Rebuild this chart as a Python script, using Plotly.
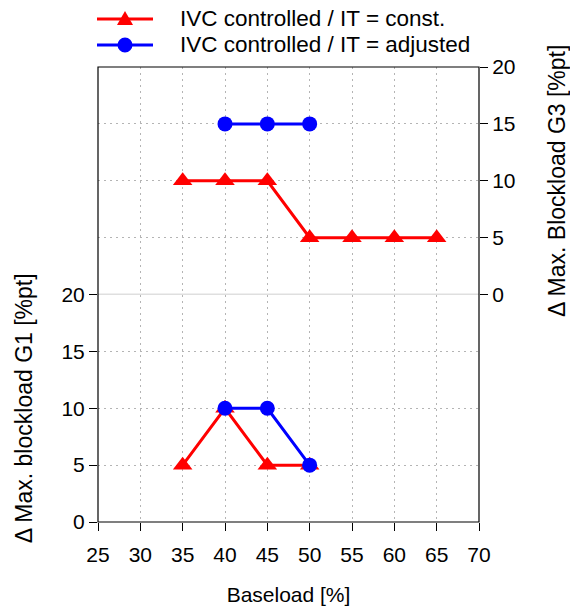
import plotly.graph_objects as go

# Baseload levels [%]
baseload_const_g3 = [35, 40, 45, 50, 55, 60, 65]
baseload_adj_g3 = [40, 45, 50]
baseload_const_g1 = [35, 40, 45, 50]
baseload_adj_g1 = [40, 45, 50]

# Δ max. blockload G3 [%pt] (upper panel, right axis)
g3_const = [10, 10, 10, 5, 5, 5, 5]
g3_adj = [15, 15, 15]

# Δ max. blockload G1 [%pt] (lower panel, left axis)
g1_const = [5, 10, 5, 5]
g1_adj = [10, 10, 5]

x_ticks = [25, 30, 35, 40, 45, 50, 55, 60, 65, 70]
y_ticks = [0, 5, 10, 15, 20]

series_names = ["IVC controlled / IT = const.", "IVC controlled / IT = adjusted"]

FONT = "Liberation Sans, Arial, sans-serif"
RED = "#ff0000"
BLUE = "#0000ff"
GRID = "#b4b4b4"

W, H = 570, 606
ML, MR, MT, MB = 98, 91, 67, 84
PW, PH = W - ML - MR, H - MT - MB


def px_to_paper(px, py):
    return (px - ML) / PW, (H - MB - py) / PH


fig = go.Figure()

tri = dict(symbol="triangle-up", size=17, color=RED)
dot = dict(symbol="circle", size=15, color=BLUE)

# upper panel
fig.add_trace(go.Scatter(x=baseload_const_g3, y=g3_const, xaxis="x2", yaxis="y2",
                         mode="lines+markers", line=dict(color=RED, width=3),
                         marker=tri, name=series_names[0]))
fig.add_trace(go.Scatter(x=baseload_adj_g3, y=g3_adj, xaxis="x2", yaxis="y2",
                         mode="lines+markers", line=dict(color=BLUE, width=3),
                         marker=dot, name=series_names[1]))
# lower panel
fig.add_trace(go.Scatter(x=baseload_const_g1, y=g1_const, xaxis="x", yaxis="y",
                         mode="lines+markers", line=dict(color=RED, width=3),
                         marker=tri, name=series_names[0]))
fig.add_trace(go.Scatter(x=baseload_adj_g1, y=g1_adj, xaxis="x", yaxis="y",
                         mode="lines+markers", line=dict(color=BLUE, width=3),
                         marker=dot, name=series_names[1]))

grid_common = dict(showgrid=True, gridcolor=GRID, gridwidth=1, griddash="2px,4px",
                   zeroline=False, showline=False)

shapes = [
    # separator between the two panels
    dict(type="line", xref="paper", yref="y2", x0=0, x1=1, y0=0, y1=0,
         line=dict(color="#c0c0c0", width=1.5), layer="below"),
    # frame around both panels
    dict(type="rect", xref="paper", yref="paper", x0=0, x1=1, y0=0, y1=1,
         line=dict(color="black", width=1.2), layer="above"),
]
annotations = []

# legend drawn above the frame
legend_rows = [(19, RED, "tri"), (45, BLUE, "dot")]
for (py, color, kind), label in zip(legend_rows, series_names):
    x0, y = px_to_paper(97, py)
    x1, _ = px_to_paper(153, py)
    xc, _ = px_to_paper(125, py)
    xt, _ = px_to_paper(178, py)
    shapes.append(dict(type="line", xref="paper", yref="paper", x0=x0, x1=x1, y0=y, y1=y,
                       line=dict(color=color, width=3)))
    if kind == "tri":
        shapes.append(dict(type="path", xref="paper", yref="paper",
                           xsizemode="pixel", ysizemode="pixel", xanchor=xc, yanchor=y,
                           path="M-8,-6 L8,-6 L0,8 Z", fillcolor=color,
                           line=dict(color=color, width=0)))
    else:
        shapes.append(dict(type="circle", xref="paper", yref="paper",
                           xsizemode="pixel", ysizemode="pixel", xanchor=xc, yanchor=y,
                           x0=-7.5, x1=7.5, y0=-7.5, y1=7.5, fillcolor=color,
                           line=dict(color=color, width=0)))
    annotations.append(dict(text=label, xref="paper", yref="paper", x=xt, y=y,
                            xanchor="left", yanchor="middle", showarrow=False,
                            font=dict(size=22.5)))

fig.update_layout(
    width=W, height=H,
    margin=dict(l=ML, r=MR, t=MT, b=MB, autoexpand=False),
    paper_bgcolor="white", plot_bgcolor="white",
    font=dict(family=FONT, size=21, color="black"),
    showlegend=False,
    xaxis=dict(domain=[0, 1], anchor="y", range=[25, 70], tickvals=x_ticks,
               ticks="outside", ticklen=8, tickcolor="black", ticklabelstandoff=6,
               title=dict(text="Baseload [%]", standoff=22, font=dict(size=21)),
               **grid_common),
    xaxis2=dict(domain=[0, 1], anchor="y2", range=[25, 70], tickvals=x_ticks,
                matches="x", showticklabels=False, ticks="", **grid_common),
    yaxis=dict(domain=[0, 0.5], anchor="x", range=[0, 20], tickvals=y_ticks,
               side="left", ticks="outside", ticklen=8, tickcolor="black",
               title=dict(text="Δ Max. blockload G1 [%pt]", standoff=22, font=dict(size=23)),
               **grid_common),
    yaxis2=dict(domain=[0.5, 1], anchor="x2", range=[0, 20], tickvals=y_ticks,
                side="right", ticks="outside", ticklen=8, tickcolor="black",
                title=dict(text="Δ Max. Blockload G3 [%pt]", standoff=35, font=dict(size=23)),
                **grid_common),
    shapes=shapes,
    annotations=annotations,
)

fig.write_html("out.html")
